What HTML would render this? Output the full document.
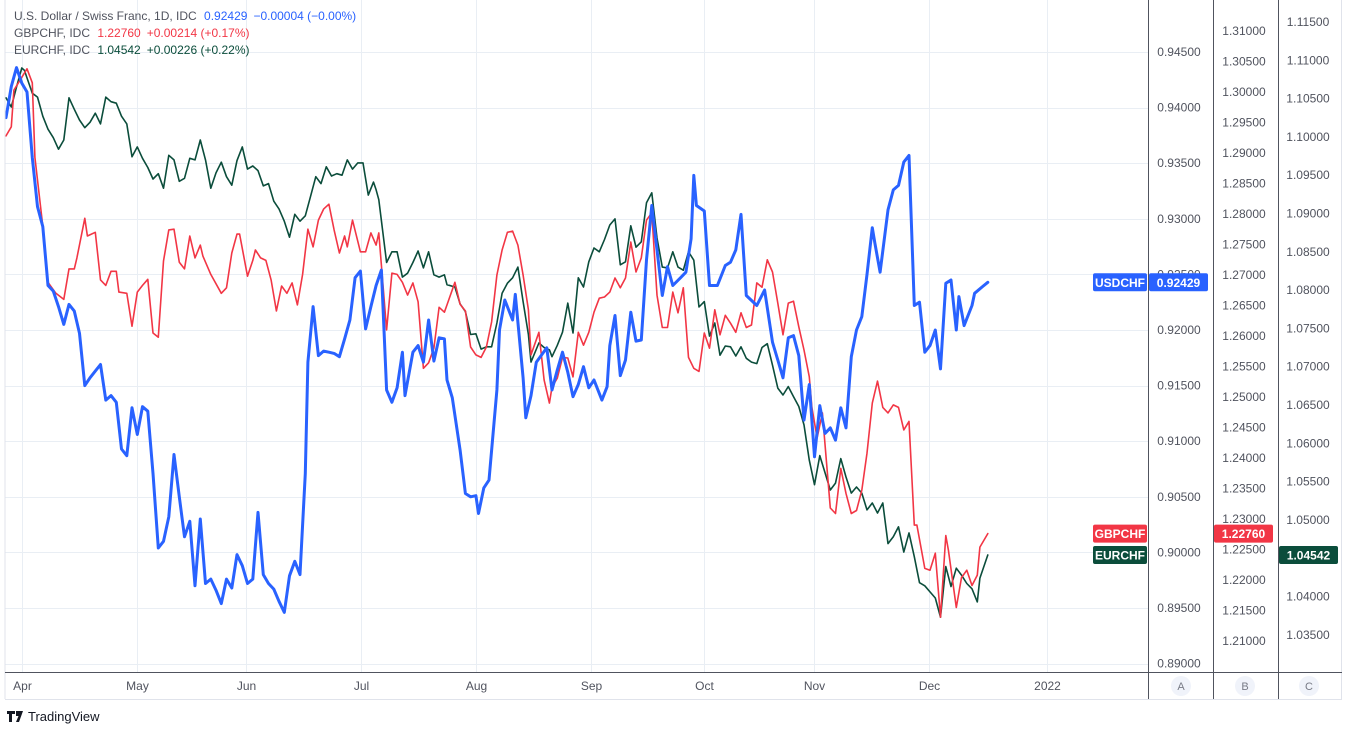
<!DOCTYPE html>
<html><head><meta charset="utf-8">
<style>
html,body{margin:0;padding:0;background:#fff;}
body{width:1346px;height:727px;overflow:hidden;font-family:"Liberation Sans",sans-serif;}
svg text{font-family:"Liberation Sans",sans-serif;}
</style></head>
<body>
<svg id="chart" width="1346" height="727" viewBox="0 0 1346 727" xmlns="http://www.w3.org/2000/svg">
  <g id="grid"></g>
  <g id="series"></g>
  <g id="frame">
    <line x1="5" y1="0" x2="5" y2="699" stroke="#e0e3eb"/>
    <line x1="1148.5" y1="0" x2="1148.5" y2="699" stroke="#50535e"/>
    <line x1="1213.5" y1="0" x2="1213.5" y2="699" stroke="#50535e"/>
    <line x1="1278.5" y1="0" x2="1278.5" y2="699" stroke="#50535e"/>
    <line x1="1341.5" y1="0" x2="1341.5" y2="699" stroke="#e0e3eb"/>
    <line x1="5" y1="672.5" x2="1342" y2="672.5" stroke="#50535e"/>
    <line x1="5" y1="699.5" x2="1342" y2="699.5" stroke="#e0e3eb"/>
  </g>
  <g id="axes"></g>
  <g id="legend">
    <text x="14" y="20" font-size="12" fill="#50535e">U.S. Dollar / Swiss Franc, 1D, IDC <tspan fill="#2962ff" dx="4">0.92429</tspan><tspan fill="#2962ff" dx="6">−0.00004 (−0.00%)</tspan></text>
    <text x="14" y="37" font-size="12" fill="#50535e">GBPCHF, IDC <tspan fill="#f23645" dx="4">1.22760</tspan><tspan fill="#f23645" dx="6">+0.00214 (+0.17%)</tspan></text>
    <text x="14" y="54" font-size="12" fill="#50535e">EURCHF, IDC <tspan fill="#0b4d3b" dx="4">1.04542</tspan><tspan fill="#0b4d3b" dx="6">+0.00226 (+0.22%)</tspan></text>
  </g>
  <g id="badges"></g>
  <g>
    <circle cx="1181" cy="686" r="10" fill="#f0f3fa"/>
    <text x="1181" y="690" font-size="11" fill="#787b86" text-anchor="middle">A</text>
    <circle cx="1245" cy="686" r="10" fill="#f0f3fa"/>
    <text x="1245" y="690" font-size="11" fill="#787b86" text-anchor="middle">B</text>
    <circle cx="1309" cy="686" r="10" fill="#f0f3fa"/>
    <text x="1309" y="690" font-size="11" fill="#787b86" text-anchor="middle">C</text>
  </g>
  <g>
    <path d="M7 711h8v3h-3v8h-3v-8H7z M16 711h7l-4 11h-3l2.5-6H16z" fill="#131722"/>
    <text x="28" y="721" font-size="13" fill="#131722">TradingView</text>
  </g>
</svg>
<script>
// ---- data ----
const monthLabels = ["Apr","May","Jun","Jul","Aug","Sep","Oct","Nov","Dec","2022"];
const monthBars = [3,25,45.7,67.6,89.5,111.4,133,153.9,175.8,198.3];
const ticksA = [0.945,0.940,0.935,0.930,0.925,0.920,0.915,0.910,0.905,0.900,0.895,0.890];
const ticksB = [1.310,1.305,1.300,1.295,1.290,1.285,1.280,1.275,1.270,1.265,1.260,1.255,1.250,1.245,1.240,1.235,1.230,1.225,1.220,1.215,1.210];
const ticksC = [1.115,1.110,1.105,1.100,1.095,1.090,1.085,1.080,1.075,1.070,1.065,1.060,1.055,1.050,1.045,1.040,1.035];

const usdBars = [0,1,2,3,4,5,6,7,8,9,10,11,12,13,14,15,16,17,18,19,20,21,22,23,24,25,26,27,28,29,30,31,32,33,34,35,36,37,38,39,40,41,42,43,44,45,46,47,48,49,50,51,52,53,54,55,56,57,57.5,58.5,59.5,60.5,61.5,62.5,63.5,64.5,65.5,66.5,67.5,68.5,69.5,70.5,71.5,72.5,73.5,74.5,75.5,76,77.5,78.5,79.5,80.5,81.5,82.5,83.5,84,85,86.5,87.5,88.5,89.5,90,91,92,93.5,94,95,96.5,97,98.5,99,100,101,103,104,105,106,107,108,109,110,111,112,113.5,114.5,115,116,117,118,119,120,121,122,123,124,125,126,127,128.5,129.5,130.5,131,131.5,133,134,135.5,137,138,139,140,141,143,144.5,146,147,148,149,150,151,152,153,154,155,156,157,158,159,160,161,162,163,164,165,165.5,166.5,168,169,170,171,172,173,174,175,176,177,178,179,180,181,181.5,182.5,184,184.5,186,187];
const usdVals = [0.9391,0.9419,0.9436,0.9422,0.9414,0.9355,0.9311,0.9293,0.9240,0.9235,0.9221,0.9205,0.9223,0.9217,0.9197,0.9150,0.9157,0.9163,0.9169,0.9137,0.9141,0.9135,0.9093,0.9087,0.9130,0.9106,0.9131,0.9127,0.9071,0.9004,0.9010,0.9032,0.9088,0.9050,0.9014,0.9028,0.8970,0.9030,0.8972,0.8976,0.8966,0.8954,0.8976,0.8968,0.8998,0.8988,0.8972,0.8976,0.9036,0.8980,0.8972,0.8967,0.8956,0.8946,0.8979,0.8992,0.8980,0.9071,0.9171,0.9221,0.9177,0.9181,0.9180,0.9179,0.9176,0.9192,0.9209,0.9247,0.9253,0.9201,0.9221,0.9240,0.9254,0.9146,0.9135,0.9148,0.9180,0.9141,0.9180,0.9186,0.9171,0.9209,0.9172,0.9193,0.9192,0.9155,0.9139,0.9092,0.9053,0.9050,0.9051,0.9035,0.9058,0.9065,0.9146,0.9200,0.9227,0.9209,0.9232,0.9157,0.9121,0.9141,0.9171,0.9184,0.9146,0.9164,0.9180,0.9162,0.9140,0.9151,0.9167,0.9148,0.9155,0.9137,0.9149,0.9186,0.9213,0.9159,0.9173,0.9216,0.9190,0.9191,0.9263,0.9312,0.9272,0.9231,0.9257,0.9240,0.9247,0.9252,0.9282,0.9339,0.9312,0.9307,0.9240,0.9240,0.9258,0.9261,0.9272,0.9304,0.9231,0.9222,0.9236,0.9189,0.9173,0.9157,0.9193,0.9195,0.9177,0.9119,0.9151,0.9086,0.9132,0.9107,0.9112,0.9101,0.9130,0.9112,0.9176,0.9200,0.9212,0.9250,0.9292,0.9278,0.9252,0.9308,0.9326,0.9330,0.9351,0.9357,0.9222,0.9225,0.9180,0.9186,0.9200,0.9165,0.9242,0.9245,0.9200,0.9230,0.9204,0.9222,0.9233,0.9239,0.92429];

const gbpBars = [0,1,1.5,4,5,5.5,7,8,9.5,11,12,13,13.5,15,15.5,17,18,19,20,21,21.5,23,24,25,26,27,28,29,30,31,32,33,34,35,36,37,37.5,39,41,42,43,44,44.5,46,47,47.5,48.5,49.5,50.5,51.5,52.5,53.5,54.5,55.5,56.5,57.5,58.5,59.5,60.5,61.5,62.5,63.5,64.5,65,66,67.5,68.5,69.5,70.5,71,72.5,73.5,74.5,75.5,76.5,77.5,78.5,79.5,80.5,81.5,82.5,83.5,84,85.5,86.5,87.5,88.5,89.5,90.5,91.5,92.5,93.5,94.5,95.5,96.5,97.5,98.5,99.5,100,101.5,102.5,103.5,104,105,106,107,108,109,110,111,112,113,114,115,116,117,118,119,120,121,122,123,124,125,126,127,128,129,130,131,132,133,134,135,136,137,138,139,140,141,142,143,144,145,146,147,148,149,150,151,152,153,153.5,154.5,155.5,157,158,159,160,161,162,163,164,165,166,167,168,169,170,171,172,173,173.5,175,176,177,178,179,179.5,181,182,183,184,185,185.5,187];
const gbpVals = [1.2928,1.2943,1.3003,1.3038,1.3015,1.2893,1.2780,1.2688,1.2670,1.2660,1.2710,1.2710,1.2728,1.2793,1.2764,1.2770,1.2692,1.2683,1.2706,1.2706,1.2672,1.2670,1.2616,1.2672,1.2683,1.2693,1.2605,1.2598,1.2723,1.2774,1.2775,1.2721,1.2710,1.2764,1.2728,1.2749,1.2731,1.2701,1.2670,1.2679,1.2736,1.2767,1.2767,1.2698,1.2724,1.2741,1.2728,1.2724,1.2692,1.2641,1.2682,1.2670,1.2687,1.2651,1.2701,1.2775,1.2746,1.2790,1.2808,1.2816,1.2774,1.2736,1.2764,1.2746,1.2790,1.2738,1.2738,1.2769,1.2749,1.2769,1.2610,1.2703,1.2701,1.2688,1.2667,1.2687,1.2656,1.2547,1.2556,1.2580,1.2647,1.2639,1.2651,1.2688,1.2652,1.2641,1.2582,1.2569,1.2565,1.2582,1.2623,1.2700,1.2741,1.2770,1.2772,1.2749,1.2700,1.2643,1.2569,1.2606,1.2528,1.2490,1.2516,1.2531,1.2565,1.2564,1.2533,1.2606,1.2585,1.2606,1.2639,1.2662,1.2664,1.2672,1.2695,1.2679,1.2695,1.2754,1.2705,1.2728,1.2790,1.2802,1.2667,1.2614,1.2614,1.2672,1.2638,1.2679,1.2565,1.2547,1.2542,1.2605,1.2580,1.2643,1.2602,1.2634,1.2621,1.2606,1.2638,1.2614,1.2618,1.2687,1.2680,1.2725,1.2705,1.2654,1.2602,1.2654,1.2657,1.2615,1.2577,1.2533,1.2483,1.2433,1.2474,1.2318,1.2309,1.2383,1.2342,1.2309,1.2314,1.2347,1.2408,1.2490,1.2526,1.2483,1.2474,1.2487,1.2483,1.2446,1.2460,1.2290,1.2290,1.2219,1.2216,1.2244,1.2139,1.2273,1.2249,1.2155,1.2204,1.2216,1.2191,1.2208,1.2254,1.2276];

const eurBars = [0,1,2,3,3.5,4,5,6,7,8,9,10,11,12,13,14,15,16,17,18,19,20,21,22,23,24,25,26,27,28,29,30,31,32,33,34,35,36,37,38,39,40,41,42,43,44,45,46,47,48,49,50,51,52,53,54,55,56,57,58,59,60,61,62,63,64,65,66,67,68,69,70,70.5,71,72.5,73.5,74.5,75.5,76.5,77.5,78.5,79.5,80.5,81.5,82.5,83.5,84,85.5,86.5,87.5,88.5,89.5,90.5,91.5,92.5,93.5,94.5,95.5,96.5,97.5,98.5,99.5,100,101.5,102.5,103.5,104,105,106,107,108,109,110,111,112,113,114,115,116,117,118,119,120,121,122,123,124,125,126,127,128,129,130,131,132,133,134,135,136,137,138,139,140,141,142,143,144,145,146,147,148,149,150,151,152,153,154,155,157,158,159,160,161,162,163,164,165,166,167,168,169,170,171,172,173,174,175,176,177,178,179,180,181,182,183,184,185,185.5,187];
const eurVals = [1.1051,1.1039,1.1065,1.1090,1.1087,1.1077,1.1057,1.1052,1.1027,1.1010,1.0999,1.0984,1.0996,1.1051,1.1036,1.1022,1.1012,1.1019,1.1031,1.1017,1.1052,1.1046,1.1044,1.1027,1.1017,1.0974,1.0987,1.0972,1.0960,1.0945,1.0952,1.0933,1.0976,1.0970,1.0942,1.0946,1.0972,1.0970,1.0996,1.0970,1.0933,1.0953,1.0967,1.0948,1.0937,1.0969,1.0987,1.0958,1.0962,1.0956,1.0936,1.0939,1.0916,1.0906,1.0890,1.0869,1.0899,1.0890,1.0897,1.0922,1.0948,1.0939,1.0961,1.0949,1.0952,1.0950,1.0970,1.0958,1.0966,1.0966,1.0924,1.0941,1.0931,1.0918,1.0836,1.0850,1.0850,1.0817,1.0822,1.0836,1.0851,1.0829,1.0850,1.0820,1.0817,1.0820,1.0807,1.0804,1.0782,1.0772,1.0742,1.0743,1.0723,1.0726,1.0726,1.0757,1.0796,1.0809,1.0816,1.0830,1.0785,1.0742,1.0706,1.0731,1.0725,1.0722,1.0713,1.0728,1.0745,1.0783,1.0744,1.0816,1.0804,1.0837,1.0855,1.0850,1.0866,1.0885,1.0893,1.0833,1.0837,1.0884,1.0856,1.0863,1.0914,1.0927,1.0868,1.0830,1.0829,1.0850,1.0830,1.0826,1.0850,1.0839,1.0778,1.0785,1.0740,1.0757,1.0715,1.0727,1.0726,1.0714,1.0726,1.0711,1.0706,1.0704,1.0725,1.0730,1.0702,1.0672,1.0663,1.0674,1.0661,1.0648,1.0624,1.0578,1.0546,1.0584,1.0539,1.0548,1.0580,1.0556,1.0535,1.0543,1.0535,1.0513,1.0522,1.0509,1.0522,1.0469,1.0478,1.0491,1.0458,1.0483,1.0452,1.0418,1.0414,1.0406,1.0398,1.0373,1.0439,1.0413,1.0437,1.0428,1.0417,1.0410,1.0393,1.0424,1.04542];

// ---- scales ----
const NS = "http://www.w3.org/2000/svg";
function xS(b){ return 6 + b * 5.25; }
function yA(v){ return 52 + (0.945 - v) / 0.005 * 55.6; }
function yB(v){ return 31 + (1.310 - v) / 0.005 * 30.5; }
function yC(v){ return 22 + (1.115 - v) / 0.005 * 38.3; }
function mk(tag, attrs, parent){
  const el = document.createElementNS(NS, tag);
  for (const k in attrs) el.setAttribute(k, attrs[k]);
  parent.appendChild(el);
  return el;
}
const grid = document.getElementById('grid');
const axes = document.getElementById('axes');
const series = document.getElementById('series');
const badges = document.getElementById('badges');

// horizontal gridlines (scale A)
ticksA.forEach(function(t){
  const y = Math.round(yA(t)) + 0.5;
  const l = mk('line', {x1:5, x2:1148, y1:y, y2:y, stroke:'#e9eef4', 'stroke-width':1}, grid);
  
  
});
// vertical gridlines + month labels
monthBars.forEach(function(b, i){
  const x = Math.round(xS(b)) + 0.5;
  const l = mk('line', {x1:x, x2:x, y1:0, y2:672, stroke:'#e9eef4', 'stroke-width':1}, grid);
  
  
  const t = mk('text', {x:x, y:690, 'font-size':12, fill:'#50535e', 'text-anchor':'middle'}, axes);
  t.textContent = monthLabels[i];
  
  
});
// y tick labels
function drawTicks(ticks, yf, cx, name){
  ticks.forEach(function(v){
    const t = mk('text', {x:cx, y:yf(v)+4, 'font-size':12, fill:'#50535e', 'text-anchor':'middle'}, axes);
    t.textContent = v.toFixed(5);
    
    
  });
}
drawTicks(ticksA, yA, 1179, 'y-tick-label-a');
drawTicks(ticksB, yB, 1244, 'y-tick-label-b');
drawTicks(ticksC, yC, 1308, 'y-tick-label-c');

// series lines
function drawLine(bars, vals, yf, color, w, name){
  let d = '';
  for (let i = 0; i < bars.length; i++){
    d += (i ? 'L' : 'M') + xS(bars[i]).toFixed(1) + ' ' + yf(vals[i]).toFixed(1);
  }
  const p = mk('path', {d:d, fill:'none', stroke:color, 'stroke-width':w, 'stroke-linejoin':'round', 'stroke-linecap':'round'}, series);
  
  
}
drawLine(eurBars, eurVals, yC, '#0b4d3b', 1.6, 'eurchf-line');
drawLine(gbpBars, gbpVals, yB, '#f23645', 1.6, 'gbpchf-line');
drawLine(usdBars, usdVals, yA, '#2962ff', 3, 'usdchf-line');

// badges
function badge(x, w, y, color, text, name){
  const g = mk('g', {}, badges);
  
  
  mk('rect', {x:x, y:y-9, width:w, height:18, rx:2, fill:color}, g);
  const t = mk('text', {x:x+w/2, y:y+4.5, 'font-size':12, 'font-weight':'bold', fill:'#fff', 'text-anchor':'middle'}, g);
  t.textContent = text;
}
const usdLast = usdVals[usdVals.length-1], gbpLast = gbpVals[gbpVals.length-1], eurLast = eurVals[eurVals.length-1];
badge(1093, 54, yA(usdLast), '#2962ff', 'USDCHF', 'usdchf-name-badge');
badge(1149, 59, yA(usdLast), '#2962ff', usdLast.toFixed(5), 'usdchf-price-badge');
badge(1093, 54, yB(gbpLast), '#f23645', 'GBPCHF', 'gbpchf-name-badge');
badge(1214, 59, yB(gbpLast), '#f23645', gbpLast.toFixed(5), 'gbpchf-price-badge');
badge(1093, 54, yC(eurLast), '#0b4d3b', 'EURCHF', 'eurchf-name-badge');
badge(1279, 59, yC(eurLast), '#0b4d3b', eurLast.toFixed(5), 'eurchf-price-badge');
</script>
</body></html>
